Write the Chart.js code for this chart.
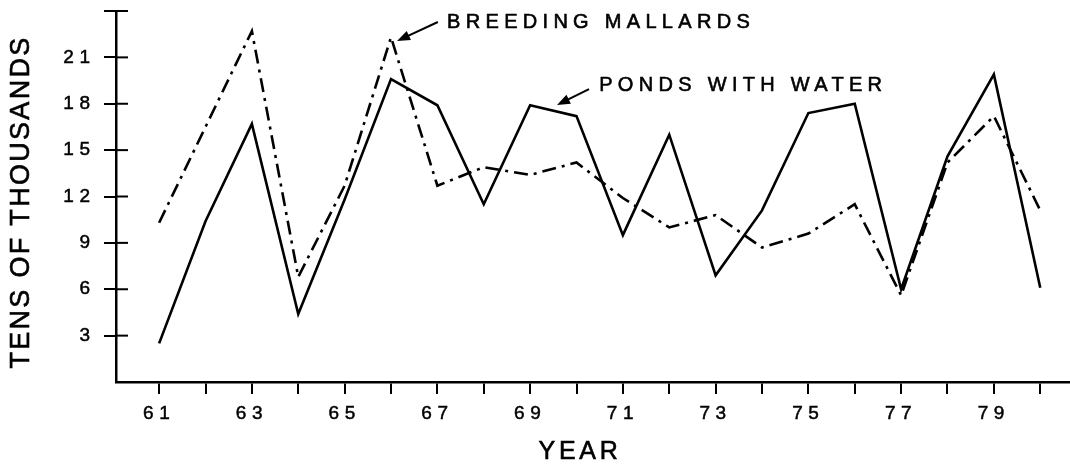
<!DOCTYPE html>
<html>
<head>
<meta charset="utf-8">
<script src="https://cdn.jsdelivr.net/npm/chart.js@4/dist/chart.umd.min.js"></script>
<style>
  html, body { margin: 0; padding: 0; background: #fff; }
  #caixa { width: 1070px; height: 465px; }
</style>
</head>
<body>
<div id="caixa"><canvas id="graficoPatos" width="1070" height="465"></canvas></div>
<script>
// Anos (19xx) e valores, em dezenas de milhares
const anos = [61, 62, 63, 64, 65, 66, 67, 68, 69, 70, 71, 72, 73, 74, 75, 76, 77, 78, 79, 80];
const anosRotulados = [61, 63, 65, 67, 69, 71, 73, 75, 77, 79];
const lagoas = [2.5, 10.4, 16.7, 4.4, 11.8, 19.6, 17.9, 11.5, 17.9, 17.2, 9.5, 16.0, 6.9, 11.1, 17.4, 18.0, 6.0, 14.6, 19.9, 6.1];
const patos = [10.3, 16.5, 22.7, 6.8, 12.7, 22.3, 12.7, 13.9, 13.4, 14.2, 11.9, 10.0, 10.8, 8.7, 9.6, 11.5, 5.6, 14.2, 17.2, 11.1];
const rotulosY = [3, 6, 9, 12, 15, 18, 21];

// Notas com seta (posições em unidades dos eixos)
const notas = [
  { texto: 'BREEDING MALLARDS', ponta: [66.13, 22.06], cauda: [67.01, 23.29], inicio: [67.21, 23.25] },
  { texto: 'PONDS WITH WATER', ponta: [69.58, 17.92], cauda: [70.27, 18.95], inicio: [70.49, 19.21] }
];

const fonte = 'Liberation Sans, Arial, Helvetica, sans-serif';

// Espaçamento entre letras dos rótulos dos eixos
const espacamento = {
  id: 'espacamento',
  beforeDraw(chart) {
    chart.ctx.letterSpacing = '5.5px';
  }
};

// Parte interna das marcas do eixo Y (cruzam o eixo)
const marcasInternas = {
  id: 'marcasInternas',
  afterDraw(chart) {
    const ctx = chart.ctx;
    const eixoY = chart.scales.y;
    const x0 = chart.chartArea.left;
    ctx.save();
    ctx.strokeStyle = '#000';
    ctx.lineWidth = 2;
    eixoY.ticks.forEach(t => {
      if (t.value === 0) return;
      const py = eixoY.getPixelForValue(t.value);
      ctx.beginPath();
      ctx.moveTo(x0, py);
      ctx.lineTo(x0 + 12, py);
      ctx.stroke();
    });
    ctx.restore();
  }
};

// Texto um pouco mais grosso, como no original impresso
function escreve(ctx, texto, x, y) {
  ctx.strokeText(texto, x, y);
  ctx.fillText(texto, x, y);
}

// Títulos dos eixos
const titulos = {
  id: 'titulos',
  afterDraw(chart) {
    const ctx = chart.ctx;
    const area = chart.chartArea;
    ctx.save();
    ctx.fillStyle = '#000';
    ctx.strokeStyle = '#000';
    ctx.lineWidth = 0.6;
    ctx.textAlign = 'center';
    ctx.textBaseline = 'middle';

    ctx.font = '25px ' + fonte;
    ctx.letterSpacing = '3.7px';
    escreve(ctx, 'YEAR', area.left + 464, area.bottom + 70);

    ctx.translate(22, (area.top + area.bottom) / 2 + 5.5);
    ctx.rotate(-Math.PI / 2);
    ctx.font = '27px ' + fonte;
    ctx.letterSpacing = '2.3px';
    escreve(ctx, 'TENS OF THOUSANDS', 0, 0);
    ctx.restore();
  }
};

// Textos e setas das séries
const setas = {
  id: 'setas',
  afterDraw(chart) {
    const ctx = chart.ctx;
    const sx = chart.scales.x, sy = chart.scales.y;
    ctx.save();
    ctx.strokeStyle = '#000';
    ctx.fillStyle = '#000';
    ctx.font = '20px ' + fonte;
    ctx.letterSpacing = '5.3px';
    ctx.textBaseline = 'middle';
    ctx.textAlign = 'left';
    notas.forEach(n => {
      const px = sx.getPixelForValue(n.ponta[0]), py = sy.getPixelForValue(n.ponta[1]);
      const cx = sx.getPixelForValue(n.cauda[0]), cy = sy.getPixelForValue(n.cauda[1]);
      const ang = Math.atan2(py - cy, px - cx);
      ctx.lineWidth = 2;
      ctx.beginPath();
      ctx.moveTo(cx, cy);
      ctx.lineTo(px - 8 * Math.cos(ang), py - 8 * Math.sin(ang));
      ctx.stroke();
      ctx.beginPath();
      ctx.moveTo(px, py);
      ctx.lineTo(px - 13 * Math.cos(ang) + 5 * Math.sin(ang), py - 13 * Math.sin(ang) - 5 * Math.cos(ang));
      ctx.lineTo(px - 13 * Math.cos(ang) - 5 * Math.sin(ang), py - 13 * Math.sin(ang) + 5 * Math.cos(ang));
      ctx.closePath();
      ctx.fill();
      ctx.lineWidth = 0.6;
      escreve(ctx, n.texto, sx.getPixelForValue(n.inicio[0]), sy.getPixelForValue(n.inicio[1]));
    });
    ctx.restore();
  }
};

const ctx = document.getElementById('graficoPatos').getContext('2d');

const grafico = new Chart(ctx, {
  type: 'line',
  data: {
    datasets: [
      {
        label: 'Ponds with water',
        data: anos.map((a, i) => ({ x: a, y: lagoas[i] })),
        borderColor: '#000',
        borderWidth: 2.6,
        pointRadius: 0,
        fill: false,
        tension: 0
      },
      {
        label: 'Breeding mallards',
        data: anos.map((a, i) => ({ x: a, y: patos[i] })),
        borderColor: '#000',
        borderWidth: 2.6,
        borderDash: [14, 6, 3, 6],
        pointRadius: 0,
        fill: false,
        tension: 0
      }
    ]
  },
  options: {
    responsive: false,
    animation: false,
    layout: { padding: { top: 11, right: 1, left: 0, bottom: 0 } },
    plugins: {
      legend: { display: false },
      tooltip: { enabled: false }
    },
    scales: {
      x: {
        type: 'linear',
        min: 60.07,
        max: 80.62,
        afterBuildTicks: s => { s.ticks = anos.map(v => ({ value: v })); },
        afterFit: s => { s.height = 83; s.paddingLeft = 0; s.paddingRight = 0; },
        ticks: {
          autoSkip: false,
          maxRotation: 0,
          padding: 8,
          color: '#000',
          textStrokeColor: '#000',
          textStrokeWidth: 0.5,
          font: { family: fonte, size: 19 },
          callback: v => anosRotulados.includes(v) ? String(v) : ''
        },
        grid: { drawOnChartArea: false, drawTicks: true, tickLength: 12, color: '#000', lineWidth: 2 },
        border: { display: true, color: '#000', width: 2.5 },
        title: { display: false }
      },
      y: {
        min: 0,
        max: 24,
        afterFit: s => { s.width = 116; s.paddingTop = 0; s.paddingBottom = 0; },
        ticks: {
          stepSize: 3,
          padding: 8.5,
          color: '#000',
          textStrokeColor: '#000',
          textStrokeWidth: 0.5,
          font: { family: fonte, size: 19 },
          callback: v => rotulosY.includes(v) ? String(v) : ''
        },
        grid: {
          drawOnChartArea: false,
          drawTicks: true,
          tickLength: 12,
          lineWidth: 2,
          color: c => (c.tick && c.tick.value === 0) ? 'rgba(0,0,0,0)' : '#000'
        },
        border: { display: true, color: '#000', width: 2.5 },
        title: { display: false }
      }
    }
  },
  plugins: [espacamento, marcasInternas, titulos, setas]
});
</script>
</body>
</html>
